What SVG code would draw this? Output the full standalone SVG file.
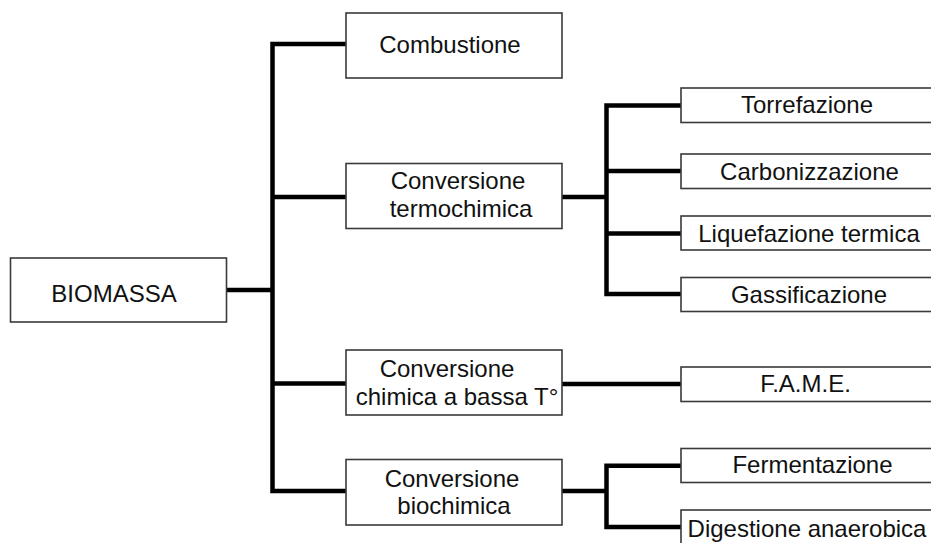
<svg xmlns="http://www.w3.org/2000/svg" width="931" height="543" viewBox="0 0 931 543">
<style>
.box{fill:#fff;stroke:#3a3a3a;stroke-width:1.6}
.t{font-family:"Liberation Sans",Arial,sans-serif;font-size:24px;fill:#111;text-anchor:middle}
.c{fill:none;stroke:#000;stroke-width:4.5;stroke-linecap:square;stroke-linejoin:miter}
</style>
<rect width="931" height="543" fill="#fff"/>
<g id="connectors">
<path class="c" d="M228,290 H272.5 M346,44 H272.5 V491 H346 M272.5,197 H346 M272.5,383.5 H346"/>
<path class="c" d="M562,197 H606.5 M681,105.5 H606.5 V294 H681 M606.5,171 H681 M606.5,233.5 H681"/>
<path class="c" d="M562,384 H681"/>
<path class="c" d="M562,491 H606.5 M681,465.7 H606.5 V527 H681"/>
</g>
<g id="biomassa"><rect class="box" x="10.5" y="258" width="216" height="64"/><text class="t" x="114" y="301.5">BIOMASSA</text></g>
<g id="combustione"><rect class="box" x="346" y="13" width="216" height="65"/><text class="t" x="450" y="53">Combustione</text></g>
<g id="termochimica"><rect class="box" x="346" y="163.5" width="216" height="65"/><text class="t" x="458" y="188.5">Conversione</text><text class="t" x="461" y="216.5">termochimica</text></g>
<g id="chimica"><rect class="box" x="346" y="350" width="216" height="65"/><text class="t" x="447" y="377">Conversione</text><text class="t" x="457" y="405">chimica a bassa T°</text></g>
<g id="biochimica"><rect class="box" x="346" y="459.5" width="216" height="65.5"/><text class="t" x="452" y="486.5">Conversione</text><text class="t" x="454" y="514">biochimica</text></g>
<g id="torrefazione"><rect class="box" x="681" y="88" width="254" height="34.5"/><text class="t" x="807" y="113">Torrefazione</text></g>
<g id="carbonizzazione"><rect class="box" x="681" y="154" width="254" height="34.5"/><text class="t" x="809.5" y="180">Carbonizzazione</text></g>
<g id="liquefazione"><rect class="box" x="681" y="216" width="254" height="34"/><text class="t" x="809" y="241.5">Liquefazione termica</text></g>
<g id="gassificazione"><rect class="box" x="681" y="277.5" width="254" height="34"/><text class="t" x="809" y="303">Gassificazione</text></g>
<g id="fame"><rect class="box" x="681" y="367" width="254" height="34.5"/><text class="t" x="805.5" y="391.5">F.A.M.E.</text></g>
<g id="fermentazione"><rect class="box" x="681" y="448.5" width="254" height="34"/><text class="t" x="812.5" y="473">Fermentazione</text></g>
<g id="digestione"><rect class="box" x="681" y="510" width="254" height="40"/><text class="t" x="807" y="536.5">Digestione anaerobica</text></g>
</svg>
